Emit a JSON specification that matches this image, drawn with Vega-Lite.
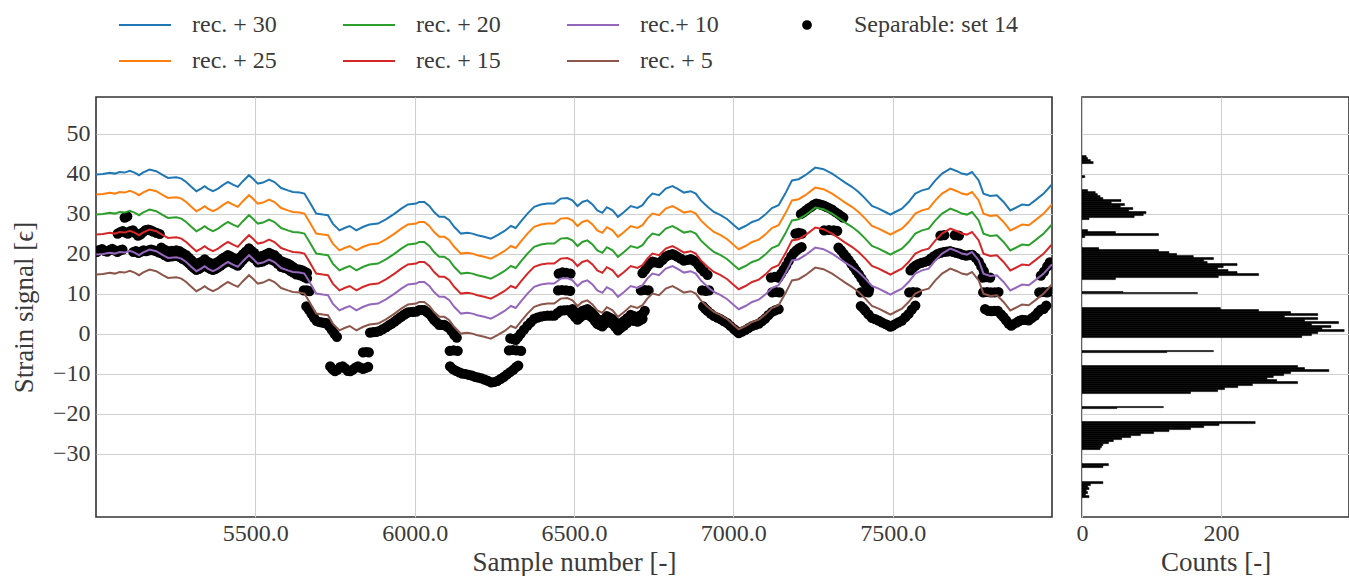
{
"$schema": "https://vega.github.io/schema/vega-lite/v6.json",
"padding": {"left": 9, "top": 13, "right": 0, "bottom": 0},
"background": "white",
"config": {
  "font": "Liberation Serif",
  "view": {"stroke": "#333333", "strokeWidth": 1.6},
  "axis": {"labelFont": "Liberation Serif", "titleFont": "Liberation Serif", "labelFontSize": 24, "titleFontSize": 27, "labelColor": "#3a3a3a", "titleColor": "#3a3a3a", "titleFontWeight": "normal", "gridColor": "#d0d0d0", "gridWidth": 1.1, "domain": false, "ticks": false, "labelPadding": 6, "labelFlush": false}
},
"spacing": 30,
"bounds": "flush",
"datasets": {
"lines": [
{"n":5001,"30":39.75,"25":34.75,"20":29.75,"15":24.75,"10":19.75,"5":14.75},
{"n":5022,"30":39.9,"25":34.9,"20":29.9,"15":24.9,"10":19.9,"5":14.9},
{"n":5043,"30":40.2,"25":35.2,"20":30.2,"15":25.2,"10":20.2,"5":15.2},
{"n":5059,"30":40,"25":35,"20":30,"15":25,"10":20,"5":15},
{"n":5074,"30":40.4,"25":35.4,"20":30.4,"15":25.4,"10":20.4,"5":15.4},
{"n":5090,"30":40.25,"25":35.25,"20":30.25,"15":25.25,"10":20.25,"5":15.25},
{"n":5106,"30":40.7,"25":35.7,"20":30.7,"15":25.7,"10":20.7,"5":15.7},
{"n":5121,"30":40.25,"25":35.25,"20":30.25,"15":25.25,"10":20.25,"5":15.25},
{"n":5135,"30":39.6,"25":34.6,"20":29.6,"15":24.6,"10":19.6,"5":14.6},
{"n":5147,"30":40.25,"25":35.25,"20":30.25,"15":25.25,"10":20.25,"5":15.25},
{"n":5168,"30":41,"25":36,"20":31,"15":26,"10":21,"5":16},
{"n":5189,"30":40.6,"25":35.6,"20":30.6,"15":25.6,"10":20.6,"5":15.6},
{"n":5210,"30":39.6,"25":34.6,"20":29.6,"15":24.6,"10":19.6,"5":14.6},
{"n":5226,"30":38.9,"25":33.9,"20":28.9,"15":23.9,"10":18.9,"5":13.9},
{"n":5252,"30":39.1,"25":34.1,"20":29.1,"15":24.1,"10":19.1,"5":14.1},
{"n":5268,"30":38.75,"25":33.75,"20":28.75,"15":23.75,"10":18.75,"5":13.75},
{"n":5283,"30":37.9,"25":32.9,"20":27.9,"15":22.9,"10":17.9,"5":12.9},
{"n":5299,"30":36.7,"25":31.7,"20":26.7,"15":21.7,"10":16.7,"5":11.7},
{"n":5315,"30":35.6,"25":30.6,"20":25.6,"15":20.6,"10":15.6,"5":10.6},
{"n":5330,"30":36.25,"25":31.25,"20":26.25,"15":21.25,"10":16.25,"5":11.25},
{"n":5341,"30":36.85,"25":31.85,"20":26.85,"15":21.85,"10":16.85,"5":11.85},
{"n":5351,"30":36.25,"25":31.25,"20":26.25,"15":21.25,"10":16.25,"5":11.25},
{"n":5367,"30":35.6,"25":30.6,"20":25.6,"15":20.6,"10":15.6,"5":10.6},
{"n":5383,"30":36.25,"25":31.25,"20":26.25,"15":21.25,"10":16.25,"5":11.25},
{"n":5398,"30":37.1,"25":32.1,"20":27.1,"15":22.1,"10":17.1,"5":12.1},
{"n":5414,"30":37.9,"25":32.9,"20":27.9,"15":22.9,"10":17.9,"5":12.9},
{"n":5430,"30":37.25,"25":32.25,"20":27.25,"15":22.25,"10":17.25,"5":12.25},
{"n":5445,"30":36.7,"25":31.7,"20":26.7,"15":21.7,"10":16.7,"5":11.7},
{"n":5461,"30":38.1,"25":33.1,"20":28.1,"15":23.1,"10":18.1,"5":13.1},
{"n":5480,"30":39.6,"25":34.6,"20":29.6,"15":24.6,"10":19.6,"5":14.6},
{"n":5492,"30":38.75,"25":33.75,"20":28.75,"15":23.75,"10":18.75,"5":13.75},
{"n":5508,"30":37.5,"25":32.5,"20":27.5,"15":22.5,"10":17.5,"5":12.5},
{"n":5524,"30":37.75,"25":32.75,"20":27.75,"15":22.75,"10":17.75,"5":12.75},
{"n":5543,"30":38.5,"25":33.5,"20":28.5,"15":23.5,"10":18.5,"5":13.5},
{"n":5560,"30":37.9,"25":32.9,"20":27.9,"15":22.9,"10":17.9,"5":12.9},
{"n":5581,"30":36.4,"25":31.4,"20":26.4,"15":21.4,"10":16.4,"5":11.4},
{"n":5602,"30":35.8,"25":30.8,"20":25.8,"15":20.8,"10":15.8,"5":10.8},
{"n":5618,"30":35.4,"25":30.4,"20":25.4,"15":20.4,"10":15.4,"5":10.4},
{"n":5639,"30":35.25,"25":30.25,"20":25.25,"15":20.25,"10":15.25,"5":10.25},
{"n":5654,"30":35,"25":30,"20":25,"15":20,"10":15,"5":10},
{"n":5670,"30":32.9,"25":27.9,"20":22.9,"15":17.9,"10":12.9,"5":7.9},
{"n":5691,"30":30,"25":25,"20":20,"15":15,"10":10,"5":5},
{"n":5712,"30":29.75,"25":24.75,"20":19.75,"15":14.75,"10":9.75,"5":4.75},
{"n":5728,"30":29.6,"25":24.6,"20":19.6,"15":14.6,"10":9.6,"5":4.6},
{"n":5743,"30":27.5,"25":22.5,"20":17.5,"15":12.5,"10":7.5,"5":2.5},
{"n":5764,"30":25.8,"25":20.8,"20":15.8,"15":10.8,"10":5.8,"5":0.8},
{"n":5780,"30":26.4,"25":21.4,"20":16.4,"15":11.4,"10":6.4,"5":1.4},
{"n":5796,"30":26.9,"25":21.9,"20":16.9,"15":11.9,"10":6.9,"5":1.9},
{"n":5817,"30":25.8,"25":20.8,"20":15.8,"15":10.8,"10":5.8,"5":0.8},
{"n":5837,"30":26.65,"25":21.65,"20":16.65,"15":11.65,"10":6.65,"5":1.65},
{"n":5858,"30":27.25,"25":22.25,"20":17.25,"15":12.25,"10":7.25,"5":2.25},
{"n":5885,"30":27.5,"25":22.5,"20":17.5,"15":12.5,"10":7.5,"5":2.5},
{"n":5911,"30":28.6,"25":23.6,"20":18.6,"15":13.6,"10":8.6,"5":3.6},
{"n":5937,"30":30,"25":25,"20":20,"15":15,"10":10,"5":5},
{"n":5958,"30":31.25,"25":26.25,"20":21.25,"15":16.25,"10":11.25,"5":6.25},
{"n":5979,"30":32.3,"25":27.3,"20":22.3,"15":17.3,"10":12.3,"5":7.3},
{"n":6005,"30":32.5,"25":27.5,"20":22.5,"15":17.5,"10":12.5,"5":7.5},
{"n":6014,"30":32.9,"25":27.9,"20":22.9,"15":17.9,"10":12.9,"5":7.9},
{"n":6030,"30":32.9,"25":27.9,"20":22.9,"15":17.9,"10":12.9,"5":7.9},
{"n":6046,"30":31.9,"25":26.9,"20":21.9,"15":16.9,"10":11.9,"5":6.9},
{"n":6061,"30":30.4,"25":25.4,"20":20.4,"15":15.4,"10":10.4,"5":5.4},
{"n":6077,"30":29.2,"25":24.2,"20":19.2,"15":14.2,"10":9.2,"5":4.2},
{"n":6093,"30":29.2,"25":24.2,"20":19.2,"15":14.2,"10":9.2,"5":4.2},
{"n":6108,"30":28.4,"25":23.4,"20":18.4,"15":13.4,"10":8.4,"5":3.4},
{"n":6124,"30":26.7,"25":21.7,"20":16.7,"15":11.7,"10":6.7,"5":1.7},
{"n":6145,"30":25,"25":20,"20":15,"15":10,"10":5,"5":0},
{"n":6166,"30":25.2,"25":20.2,"20":15.2,"15":10.2,"10":5.2,"5":0.2},
{"n":6181,"30":25,"25":20,"20":15,"15":10,"10":5,"5":0},
{"n":6197,"30":24.6,"25":19.6,"20":14.6,"15":9.6,"10":4.6,"5":-0.4},
{"n":6218,"30":24.2,"25":19.2,"20":14.2,"15":9.2,"10":4.2,"5":-0.8},
{"n":6239,"30":23.75,"25":18.75,"20":13.75,"15":8.75,"10":3.75,"5":-1.25},
{"n":6260,"30":24.6,"25":19.6,"20":14.6,"15":9.6,"10":4.6,"5":-0.4},
{"n":6281,"30":25.6,"25":20.6,"20":15.6,"15":10.6,"10":5.6,"5":0.6},
{"n":6302,"30":26.9,"25":21.9,"20":16.9,"15":11.9,"10":6.9,"5":1.9},
{"n":6317,"30":26.4,"25":21.4,"20":16.4,"15":11.4,"10":6.4,"5":1.4},
{"n":6333,"30":28,"25":23,"20":18,"15":13,"10":8,"5":3},
{"n":6354,"30":30,"25":25,"20":20,"15":15,"10":10,"5":5},
{"n":6375,"30":31.7,"25":26.7,"20":21.7,"15":16.7,"10":11.7,"5":6.7},
{"n":6396,"30":32.25,"25":27.25,"20":22.25,"15":17.25,"10":12.25,"5":7.25},
{"n":6417,"30":32.5,"25":27.5,"20":22.5,"15":17.5,"10":12.5,"5":7.5},
{"n":6438,"30":32.5,"25":27.5,"20":22.5,"15":17.5,"10":12.5,"5":7.5},
{"n":6458,"30":33.75,"25":28.75,"20":23.75,"15":18.75,"10":13.75,"5":8.75},
{"n":6479,"30":33.9,"25":28.9,"20":23.9,"15":18.9,"10":13.9,"5":8.9},
{"n":6495,"30":33.3,"25":28.3,"20":23.3,"15":18.3,"10":13.3,"5":8.3},
{"n":6511,"30":31.9,"25":26.9,"20":21.9,"15":16.9,"10":11.9,"5":6.9},
{"n":6526,"30":32.9,"25":27.9,"20":22.9,"15":17.9,"10":12.9,"5":7.9},
{"n":6542,"30":33.3,"25":28.3,"20":23.3,"15":18.3,"10":13.3,"5":8.3},
{"n":6558,"30":32.3,"25":27.3,"20":22.3,"15":17.3,"10":12.3,"5":7.3},
{"n":6573,"30":30.8,"25":25.8,"20":20.8,"15":15.8,"10":10.8,"5":5.8},
{"n":6589,"30":30.2,"25":25.2,"20":20.2,"15":15.2,"10":10.2,"5":5.2},
{"n":6603,"30":31.6,"25":26.6,"20":21.6,"15":16.6,"10":11.6,"5":6.6},
{"n":6621,"30":30.8,"25":25.8,"20":20.8,"15":15.8,"10":10.8,"5":5.8},
{"n":6638,"30":29.2,"25":24.2,"20":19.2,"15":14.2,"10":9.2,"5":4.2},
{"n":6657,"30":30.4,"25":25.4,"20":20.4,"15":15.4,"10":10.4,"5":5.4},
{"n":6678,"30":31.9,"25":26.9,"20":21.9,"15":16.9,"10":11.9,"5":6.9},
{"n":6699,"30":31.4,"25":26.4,"20":21.4,"15":16.4,"10":11.4,"5":6.4},
{"n":6715,"30":32.1,"25":27.1,"20":22.1,"15":17.1,"10":12.1,"5":7.1},
{"n":6730,"30":33.75,"25":28.75,"20":23.75,"15":18.75,"10":13.75,"5":8.75},
{"n":6746,"30":35,"25":30,"20":25,"15":20,"10":15,"5":10},
{"n":6767,"30":34.6,"25":29.6,"20":24.6,"15":19.6,"10":14.6,"5":9.6},
{"n":6788,"30":36.25,"25":31.25,"20":26.25,"15":21.25,"10":16.25,"5":11.25},
{"n":6809,"30":36.9,"25":31.9,"20":26.9,"15":21.9,"10":16.9,"5":11.9},
{"n":6824,"30":36.25,"25":31.25,"20":26.25,"15":21.25,"10":16.25,"5":11.25},
{"n":6845,"30":35.25,"25":30.25,"20":25.25,"15":20.25,"10":15.25,"5":10.25},
{"n":6866,"30":35.6,"25":30.6,"20":25.6,"15":20.6,"10":15.6,"5":10.6},
{"n":6882,"30":35,"25":30,"20":25,"15":20,"10":15,"5":10},
{"n":6898,"30":33.3,"25":28.3,"20":23.3,"15":18.3,"10":13.3,"5":8.3},
{"n":6919,"30":31.7,"25":26.7,"20":21.7,"15":16.7,"10":11.7,"5":6.7},
{"n":6939,"30":30.4,"25":25.4,"20":20.4,"15":15.4,"10":10.4,"5":5.4},
{"n":6960,"30":29.6,"25":24.6,"20":19.6,"15":14.6,"10":9.6,"5":4.6},
{"n":6981,"30":28.6,"25":23.6,"20":18.6,"15":13.6,"10":8.6,"5":3.6},
{"n":7002,"30":27.1,"25":22.1,"20":17.1,"15":12.1,"10":7.1,"5":2.1},
{"n":7017,"30":26.1,"25":21.1,"20":16.1,"15":11.1,"10":6.1,"5":1.1},
{"n":7038,"30":26.9,"25":21.9,"20":16.9,"15":11.9,"10":6.9,"5":1.9},
{"n":7059,"30":27.9,"25":22.9,"20":17.9,"15":12.9,"10":7.9,"5":2.9},
{"n":7080,"30":28.5,"25":23.5,"20":18.5,"15":13.5,"10":8.5,"5":3.5},
{"n":7100,"30":29.75,"25":24.75,"20":19.75,"15":14.75,"10":9.75,"5":4.75},
{"n":7121,"30":31.4,"25":26.4,"20":21.4,"15":16.4,"10":11.4,"5":6.4},
{"n":7142,"30":32.1,"25":27.1,"20":22.1,"15":17.1,"10":12.1,"5":7.1},
{"n":7163,"30":35,"25":30,"20":25,"15":20,"10":15,"5":10},
{"n":7184,"30":38.3,"25":33.3,"20":28.3,"15":23.3,"10":18.3,"5":13.3},
{"n":7205,"30":38.6,"25":33.6,"20":28.6,"15":23.6,"10":18.6,"5":13.6},
{"n":7226,"30":39.6,"25":34.6,"20":29.6,"15":24.6,"10":19.6,"5":14.6},
{"n":7257,"30":41.5,"25":36.5,"20":31.5,"15":26.5,"10":21.5,"5":16.5},
{"n":7283,"30":41.1,"25":36.1,"20":31.1,"15":26.1,"10":21.1,"5":16.1},
{"n":7310,"30":40,"25":35,"20":30,"15":25,"10":20,"5":15},
{"n":7330,"30":38.9,"25":33.9,"20":28.9,"15":23.9,"10":18.9,"5":13.9},
{"n":7351,"30":37.75,"25":32.75,"20":27.75,"15":22.75,"10":17.75,"5":12.75},
{"n":7372,"30":36.7,"25":31.7,"20":26.7,"15":21.7,"10":16.7,"5":11.7},
{"n":7393,"30":35.4,"25":30.4,"20":25.4,"15":20.4,"10":15.4,"5":10.4},
{"n":7414,"30":33.75,"25":28.75,"20":23.75,"15":18.75,"10":13.75,"5":8.75},
{"n":7435,"30":31.9,"25":26.9,"20":21.9,"15":16.9,"10":11.9,"5":6.9},
{"n":7456,"30":31.25,"25":26.25,"20":21.25,"15":16.25,"10":11.25,"5":6.25},
{"n":7477,"30":30.4,"25":25.4,"20":20.4,"15":15.4,"10":10.4,"5":5.4},
{"n":7493,"30":29.75,"25":24.75,"20":19.75,"15":14.75,"10":9.75,"5":4.75},
{"n":7508,"30":30.4,"25":25.4,"20":20.4,"15":15.4,"10":10.4,"5":5.4},
{"n":7529,"30":31.25,"25":26.25,"20":21.25,"15":16.25,"10":11.25,"5":6.25},
{"n":7550,"30":32.9,"25":27.9,"20":22.9,"15":17.9,"10":12.9,"5":7.9},
{"n":7571,"30":35,"25":30,"20":25,"15":20,"10":15,"5":10},
{"n":7592,"30":35.8,"25":30.8,"20":25.8,"15":20.8,"10":15.8,"5":10.8},
{"n":7613,"30":36.25,"25":31.25,"20":26.25,"15":21.25,"10":16.25,"5":11.25},
{"n":7634,"30":38.3,"25":33.3,"20":28.3,"15":23.3,"10":18.3,"5":13.3},
{"n":7655,"30":40,"25":35,"20":30,"15":25,"10":20,"5":15},
{"n":7681,"30":41.25,"25":36.25,"20":31.25,"15":26.25,"10":21.25,"5":16.25},
{"n":7702,"30":40.6,"25":35.6,"20":30.6,"15":25.6,"10":20.6,"5":15.6},
{"n":7717,"30":40,"25":35,"20":30,"15":25,"10":20,"5":15},
{"n":7733,"30":39.75,"25":34.75,"20":29.75,"15":24.75,"10":19.75,"5":14.75},
{"n":7749,"30":40.4,"25":35.4,"20":30.4,"15":25.4,"10":20.4,"5":15.4},
{"n":7770,"30":38.3,"25":33.3,"20":28.3,"15":23.3,"10":18.3,"5":13.3},
{"n":7785,"30":35,"25":30,"20":25,"15":20,"10":15,"5":10},
{"n":7806,"30":34.4,"25":29.4,"20":24.4,"15":19.4,"10":14.4,"5":9.4},
{"n":7827,"30":34.6,"25":29.6,"20":24.6,"15":19.6,"10":14.6,"5":9.6},
{"n":7848,"30":32.9,"25":27.9,"20":22.9,"15":17.9,"10":12.9,"5":7.9},
{"n":7869,"30":30.8,"25":25.8,"20":20.8,"15":15.8,"10":10.8,"5":5.8},
{"n":7885,"30":31.4,"25":26.4,"20":21.4,"15":16.4,"10":11.4,"5":6.4},
{"n":7906,"30":32.25,"25":27.25,"20":22.25,"15":17.25,"10":12.25,"5":7.25},
{"n":7927,"30":32.1,"25":27.1,"20":22.1,"15":17.1,"10":12.1,"5":7.1},
{"n":7947,"30":33.3,"25":28.3,"20":23.3,"15":18.3,"10":13.3,"5":8.3},
{"n":7974,"30":35,"25":30,"20":25,"15":20,"10":15,"5":10},
{"n":7995,"30":36.9,"25":31.9,"20":26.9,"15":21.9,"10":16.9,"5":11.9},
{"n":8000,"30":37.3,"25":32.3,"20":27.3,"15":22.3,"10":17.3,"5":12.3}
],
"pts": [
{"n":5003,"y":20.4},{"n":5011,"y":20.9},{"n":5019,"y":21.1},{"n":5027,"y":20.7},{"n":5035,"y":20.5},{"n":5043,"y":20.9},{"n":5051,"y":21.2},{"n":5059,"y":20.8},{"n":5067,"y":20.4},{"n":5075,"y":20.8},{"n":5083,"y":21.0},
{"n":5090,"y":29.0},{"n":5098,"y":29.3},
{"n":5068,"y":25.0},{"n":5076,"y":25.4},{"n":5084,"y":25.6},{"n":5092,"y":25.3},{"n":5100,"y":25.0},{"n":5108,"y":25.6},{"n":5116,"y":25.8},{"n":5124,"y":25.1},{"n":5132,"y":24.5},{"n":5140,"y":24.8},{"n":5148,"y":25.4},{"n":5156,"y":25.9},{"n":5164,"y":26.0},{"n":5172,"y":25.8},{"n":5180,"y":25.5},{"n":5190,"y":25.2},{"n":5200,"y":24.9},
{"n":5117,"y":20.4},{"n":5125,"y":20.6},{"n":5133,"y":20.2},{"n":5141,"y":20.5},{"n":5149,"y":20.8},{"n":5157,"y":20.6},{"n":5165,"y":20.8},{"n":5173,"y":21.0},{"n":5181,"y":20.8},{"n":5189,"y":20.6},{"n":5197,"y":20.3},
{"n":5205,"y":20.1},{"n":5215,"y":19.6},{"n":5226,"y":19.2},{"n":5238,"y":19.3},{"n":5252,"y":19.4},{"n":5262,"y":19.2},{"n":5272,"y":18.7},{"n":5283,"y":18.2},{"n":5291,"y":17.6},{"n":5299,"y":17.0},{"n":5307,"y":16.4},{"n":5315,"y":15.9},{"n":5323,"y":16.2},{"n":5330,"y":16.55},{"n":5341,"y":17.15},{"n":5351,"y":16.55},{"n":5359,"y":16.2},{"n":5367,"y":15.9},{"n":5375,"y":16.2},{"n":5383,"y":16.55},{"n":5391,"y":17.0},{"n":5398,"y":17.4},{"n":5406,"y":17.8},{"n":5414,"y":18.2},{"n":5422,"y":17.9},{"n":5430,"y":17.55},{"n":5438,"y":17.3},{"n":5445,"y":17.0},{"n":5453,"y":17.7},{"n":5461,"y":18.4},{"n":5470,"y":19.1},{"n":5480,"y":19.9},{"n":5488,"y":19.3},{"n":5496,"y":18.8},{"n":5508,"y":17.8},{"n":5516,"y":17.9},{"n":5524,"y":18.05},{"n":5533,"y":18.4},{"n":5543,"y":18.8},{"n":5551,"y":18.5},{"n":5560,"y":18.2},{"n":5570,"y":17.5},{"n":5581,"y":16.7},{"n":5591,"y":16.4},{"n":5602,"y":16.1},{"n":5610,"y":15.7},{"n":5618,"y":15.3},{"n":5628,"y":14.8},{"n":5639,"y":14.6},{"n":5647,"y":14.4},{"n":5654,"y":14.1},{"n":5662,"y":13.8},
{"n":5205,"y":21.5},{"n":5215,"y":21.0},{"n":5226,"y":20.6},{"n":5238,"y":20.7},{"n":5252,"y":20.8},{"n":5262,"y":20.6},{"n":5272,"y":20.1},{"n":5283,"y":19.6},{"n":5291,"y":19.0},{"n":5299,"y":18.4},{"n":5307,"y":17.8},{"n":5315,"y":17.3},{"n":5323,"y":17.6},{"n":5330,"y":17.95},{"n":5341,"y":18.55},{"n":5351,"y":17.95},{"n":5359,"y":17.6},{"n":5367,"y":17.3},{"n":5375,"y":17.6},{"n":5383,"y":17.95},{"n":5391,"y":18.4},{"n":5398,"y":18.8},{"n":5406,"y":19.2},{"n":5414,"y":19.6},{"n":5422,"y":19.3},{"n":5430,"y":18.95},{"n":5438,"y":18.7},{"n":5445,"y":18.4},{"n":5453,"y":19.1},{"n":5461,"y":19.8},{"n":5470,"y":20.5},{"n":5480,"y":21.3},{"n":5488,"y":20.7},{"n":5496,"y":20.2},{"n":5508,"y":19.2},{"n":5516,"y":19.3},{"n":5524,"y":19.45},{"n":5533,"y":19.8},{"n":5543,"y":20.2},{"n":5551,"y":19.9},{"n":5560,"y":19.6},{"n":5570,"y":18.9},{"n":5581,"y":18.1},{"n":5591,"y":17.8},{"n":5602,"y":17.5},{"n":5610,"y":17.1},{"n":5618,"y":16.7},{"n":5628,"y":16.2},{"n":5639,"y":16.0},{"n":5647,"y":15.8},{"n":5654,"y":15.5},{"n":5662,"y":15.2},
{"n":5652,"y":10.8},{"n":5662,"y":10.8},{"n":5670,"y":10.6},
{"n":5660,"y":6.8},{"n":5668,"y":6.0},{"n":5676,"y":5.0},{"n":5684,"y":4.0},{"n":5692,"y":3.2},{"n":5700,"y":2.9},{"n":5708,"y":2.8},{"n":5716,"y":2.7},{"n":5724,"y":2.6},{"n":5732,"y":1.8},{"n":5740,"y":0.9},{"n":5748,"y":0.0},{"n":5756,"y":-0.8},
{"n":5838,"y":-4.7},{"n":5848,"y":-4.6},{"n":5856,"y":-4.7},
{"n":5735,"y":-8.2},{"n":5742,"y":-8.9},{"n":5750,"y":-9.4},{"n":5758,"y":-9.0},{"n":5766,"y":-8.4},{"n":5774,"y":-8.2},{"n":5782,"y":-8.7},{"n":5790,"y":-9.3},{"n":5798,"y":-9.4},{"n":5806,"y":-9.0},{"n":5814,"y":-8.5},{"n":5822,"y":-8.2},{"n":5830,"y":-8.5},{"n":5838,"y":-8.8},{"n":5846,"y":-8.6},{"n":5854,"y":-8.3},
{"n":5860,"y":0.25},{"n":5870,"y":0.35},{"n":5880,"y":0.45},{"n":5890,"y":0.7},{"n":5900,"y":1.1},{"n":5911,"y":1.6},{"n":5920,"y":2.1},{"n":5928,"y":2.5},{"n":5937,"y":3.0},{"n":5945,"y":3.5},{"n":5952,"y":3.9},{"n":5958,"y":4.25},{"n":5966,"y":4.7},{"n":5972,"y":5.0},{"n":5979,"y":5.3},{"n":5988,"y":5.4},{"n":5996,"y":5.45},{"n":6005,"y":5.5},{"n":6014,"y":5.9},{"n":6022,"y":5.9},{"n":6030,"y":5.9},{"n":6038,"y":5.4},
{"n":6046,"y":4.9},{"n":6054,"y":4.2},{"n":6061,"y":3.4},{"n":6069,"y":2.8},{"n":6077,"y":2.2},{"n":6085,"y":2.2},{"n":6093,"y":2.2},{"n":6100,"y":1.8},{"n":6108,"y":1.4},{"n":6116,"y":0.6},{"n":6124,"y":-0.3},{"n":6132,"y":-1.0},
{"n":6110,"y":-4.3},{"n":6122,"y":-4.2},{"n":6135,"y":-4.3},
{"n":6111,"y":-8.2},{"n":6120,"y":-8.9},{"n":6130,"y":-9.3},{"n":6140,"y":-9.7},{"n":6150,"y":-10.0},{"n":6160,"y":-10.1},{"n":6170,"y":-10.3},{"n":6180,"y":-10.5},{"n":6190,"y":-10.8},{"n":6200,"y":-11.0},{"n":6210,"y":-11.2},{"n":6220,"y":-11.5},{"n":6230,"y":-11.8},{"n":6240,"y":-12.2},{"n":6250,"y":-12.1},{"n":6260,"y":-11.8},{"n":6270,"y":-11.3},{"n":6280,"y":-10.8},{"n":6290,"y":-10.2},{"n":6300,"y":-9.6},{"n":6310,"y":-9.0},{"n":6318,"y":-8.4},{"n":6325,"y":-8.0},
{"n":6296,"y":-4.2},{"n":6308,"y":-4.1},{"n":6320,"y":-4.2},{"n":6334,"y":-4.3},
{"n":6300,"y":-1.2},{"n":6310,"y":-1.4},{"n":6317,"y":-1.6},{"n":6325,"y":-0.8},{"n":6333,"y":0.0},{"n":6343,"y":1.0},{"n":6354,"y":2.0},{"n":6364,"y":2.8},{"n":6375,"y":3.7},{"n":6385,"y":4.0},{"n":6396,"y":4.25},{"n":6406,"y":4.4},{"n":6417,"y":4.5},{"n":6428,"y":4.5},{"n":6438,"y":4.5},{"n":6448,"y":5.1},{"n":6458,"y":5.75},{"n":6468,"y":5.8},{"n":6479,"y":5.9},{"n":6487,"y":5.6},
{"n":6450,"y":10.8},{"n":6462,"y":10.9},{"n":6475,"y":10.8},{"n":6488,"y":10.7},
{"n":6452,"y":15.0},{"n":6464,"y":15.3},{"n":6476,"y":15.2},{"n":6489,"y":15.0},
{"n":6495,"y":6.1},{"n":6503,"y":5.4},{"n":6511,"y":4.7},{"n":6518,"y":5.2},{"n":6526,"y":5.7},{"n":6534,"y":5.9},{"n":6542,"y":6.1},{"n":6550,"y":5.6},{"n":6558,"y":5.1},{"n":6566,"y":4.3},{"n":6573,"y":3.6},{"n":6581,"y":3.3},{"n":6589,"y":3.0},{"n":6596,"y":3.7},{"n":6603,"y":4.4},{"n":6612,"y":4.0},{"n":6621,"y":3.6},{"n":6630,"y":2.8},{"n":6638,"y":2.0},{"n":6647,"y":2.6},{"n":6657,"y":3.2},{"n":6667,"y":3.9},{"n":6678,"y":4.7},{"n":6688,"y":4.4},{"n":6699,"y":4.2},{"n":6707,"y":4.5},{"n":6715,"y":4.9},{"n":6722,"y":5.7},
{"n":6495,"y":4.9},{"n":6503,"y":4.2},{"n":6511,"y":3.5},{"n":6518,"y":4.0},{"n":6526,"y":4.5},{"n":6534,"y":4.7},{"n":6542,"y":4.9},{"n":6550,"y":4.4},{"n":6558,"y":3.9},{"n":6566,"y":3.1},{"n":6573,"y":2.4},{"n":6581,"y":2.1},{"n":6589,"y":1.8},{"n":6596,"y":2.5},{"n":6603,"y":3.2},{"n":6612,"y":2.8},{"n":6621,"y":2.4},{"n":6630,"y":1.6},{"n":6638,"y":0.8},{"n":6647,"y":1.4},{"n":6657,"y":2.0},{"n":6667,"y":2.7},{"n":6678,"y":3.5},{"n":6688,"y":3.2},{"n":6699,"y":3.0},{"n":6707,"y":3.3},{"n":6715,"y":3.7},
{"n":6710,"y":10.8},{"n":6722,"y":10.9},{"n":6734,"y":10.8},
{"n":6715,"y":15.1},{"n":6723,"y":15.9},{"n":6730,"y":16.75},{"n":6738,"y":17.4},{"n":6746,"y":18.0},{"n":6756,"y":17.8},{"n":6767,"y":17.6},{"n":6778,"y":18.4},{"n":6788,"y":19.25},{"n":6798,"y":19.6},{"n":6809,"y":19.9},{"n":6816,"y":19.6},{"n":6824,"y":19.25},{"n":6835,"y":18.75},{"n":6845,"y":18.25},{"n":6856,"y":18.4},{"n":6866,"y":18.6},{"n":6874,"y":18.3},{"n":6882,"y":18.0},{"n":6890,"y":17.2},{"n":6898,"y":16.3},{"n":6908,"y":15.5},{"n":6919,"y":14.7},
{"n":6902,"y":10.8},{"n":6914,"y":10.7},{"n":6924,"y":10.8},
{"n":6905,"y":6.8},{"n":6912,"y":6.2},{"n":6919,"y":5.7},{"n":6929,"y":5.0},{"n":6939,"y":4.4},{"n":6950,"y":4.0},{"n":6960,"y":3.6},{"n":6970,"y":3.1},{"n":6981,"y":2.6},{"n":6991,"y":1.9},{"n":7002,"y":1.1},{"n":7010,"y":0.6},{"n":7017,"y":0.1},{"n":7027,"y":0.5},{"n":7038,"y":0.9},{"n":7048,"y":1.4},{"n":7059,"y":1.9},{"n":7069,"y":2.2},{"n":7080,"y":2.5},{"n":7090,"y":3.1},{"n":7100,"y":3.75},{"n":7110,"y":4.6},{"n":7121,"y":5.4},{"n":7131,"y":5.8},{"n":7142,"y":6.1},
{"n":7118,"y":14.0},{"n":7130,"y":14.2},{"n":7142,"y":14.0},{"n":7122,"y":10.3},{"n":7134,"y":10.4},{"n":7145,"y":10.3},
{"n":7150,"y":15.0},{"n":7158,"y":16.0},{"n":7166,"y":17.0},{"n":7174,"y":18.2},{"n":7182,"y":19.3},{"n":7190,"y":20.2},{"n":7198,"y":20.8},{"n":7206,"y":21.3},{"n":7214,"y":21.6},
{"n":7195,"y":25.0},{"n":7205,"y":25.2},{"n":7215,"y":25.0},
{"n":7212,"y":29.9},{"n":7220,"y":30.3},{"n":7228,"y":30.8},{"n":7236,"y":31.3},{"n":7244,"y":31.7},{"n":7252,"y":32.2},{"n":7260,"y":32.5},{"n":7268,"y":32.4},{"n":7276,"y":32.2},{"n":7284,"y":32.0},{"n":7292,"y":31.7},{"n":7300,"y":31.4},{"n":7310,"y":31.0},{"n":7320,"y":30.4},{"n":7330,"y":29.9},{"n":7338,"y":29.4},{"n":7345,"y":29.0},
{"n":7285,"y":25.8},{"n":7300,"y":25.9},{"n":7315,"y":25.8},{"n":7326,"y":25.7},
{"n":7330,"y":21.5},{"n":7338,"y":20.8},{"n":7346,"y":20.0},{"n":7354,"y":19.2},{"n":7362,"y":18.4},{"n":7370,"y":17.5},{"n":7378,"y":16.6},{"n":7386,"y":15.7},{"n":7394,"y":14.8},{"n":7402,"y":13.8},{"n":7410,"y":12.8},{"n":7418,"y":11.8},{"n":7426,"y":11.0},
{"n":7400,"y":10.3},{"n":7412,"y":10.4},{"n":7424,"y":10.3},
{"n":7400,"y":6.9},{"n":7408,"y":6.3},{"n":7414,"y":5.75},{"n":7424,"y":4.8},{"n":7435,"y":3.9},{"n":7445,"y":3.6},{"n":7456,"y":3.25},{"n":7466,"y":2.8},{"n":7477,"y":2.4},{"n":7485,"y":2.1},{"n":7493,"y":1.75},{"n":7500,"y":2.0},{"n":7508,"y":2.4},{"n":7518,"y":2.8},{"n":7529,"y":3.25},{"n":7540,"y":4.1},{"n":7550,"y":4.9},{"n":7560,"y":6.0},{"n":7571,"y":7.0},
{"n":7552,"y":10.3},{"n":7564,"y":10.4},{"n":7576,"y":10.3},
{"n":7556,"y":15.8},{"n":7564,"y":16.5},{"n":7572,"y":17.0},{"n":7580,"y":17.4},{"n":7590,"y":17.7},{"n":7600,"y":17.9},{"n":7610,"y":18.2},{"n":7620,"y":18.8},{"n":7630,"y":19.4},{"n":7640,"y":19.9},{"n":7650,"y":20.2},{"n":7660,"y":20.4},{"n":7670,"y":20.5},{"n":7680,"y":20.6},{"n":7690,"y":20.4},{"n":7700,"y":20.2},{"n":7710,"y":20.0},{"n":7720,"y":19.7},{"n":7730,"y":19.5},{"n":7740,"y":19.6},{"n":7750,"y":19.7},{"n":7760,"y":19.0},{"n":7770,"y":18.0},{"n":7778,"y":16.8},{"n":7786,"y":15.6},
{"n":7650,"y":24.5},{"n":7662,"y":24.6},{"n":7695,"y":24.6},{"n":7708,"y":24.5},
{"n":7782,"y":14.0},{"n":7794,"y":14.1},{"n":7806,"y":14.0},{"n":7784,"y":10.3},{"n":7796,"y":10.4},{"n":7808,"y":10.3},{"n":7820,"y":10.3},{"n":7832,"y":10.4},
{"n":7790,"y":6.1},{"n":7800,"y":5.7},{"n":7810,"y":5.6},{"n":7820,"y":5.7},{"n":7830,"y":5.7},{"n":7840,"y":4.8},{"n":7848,"y":4.1},{"n":7856,"y":3.3},{"n":7864,"y":2.5},{"n":7872,"y":2.0},{"n":7880,"y":2.4},{"n":7890,"y":2.8},{"n":7898,"y":3.2},{"n":7906,"y":3.45},{"n":7916,"y":3.4},{"n":7927,"y":3.3},{"n":7937,"y":3.9},{"n":7947,"y":4.5},{"n":7956,"y":5.3},{"n":7965,"y":6.0},{"n":7974,"y":6.2},{"n":7982,"y":7.0},
{"n":7960,"y":10.3},{"n":7972,"y":10.4},{"n":7984,"y":10.3},{"n":7992,"y":10.5},
{"n":7965,"y":14.5},{"n":7975,"y":15.5},{"n":7985,"y":16.8},{"n":7993,"y":17.8}
],
"hist": [
{"lo":44,"hi":44.5,"c":6},{"lo":43.5,"hi":44,"c":8},{"lo":43,"hi":43.5,"c":12},{"lo":42.5,"hi":43,"c":16},
{"lo":39,"hi":39.5,"c":4},
{"lo":35.5,"hi":36,"c":8},{"lo":35,"hi":35.5,"c":19},{"lo":34.5,"hi":35,"c":22},{"lo":34,"hi":34.5,"c":26},{"lo":33.5,"hi":34,"c":30},{"lo":33,"hi":33.5,"c":56},{"lo":32.5,"hi":33,"c":42},{"lo":32,"hi":32.5,"c":61},{"lo":31.5,"hi":32,"c":55},{"lo":31,"hi":31.5,"c":73},{"lo":30.5,"hi":31,"c":67},{"lo":30,"hi":30.5,"c":92},{"lo":29.5,"hi":30,"c":88},{"lo":29,"hi":29.5,"c":75},{"lo":28.5,"hi":29,"c":10},
{"lo":25.5,"hi":26,"c":8},{"lo":25,"hi":25.5,"c":48},{"lo":24.5,"hi":25,"c":110},{"lo":24,"hi":24.5,"c":4},
{"lo":21,"hi":21.5,"c":24},{"lo":20.5,"hi":21,"c":110},{"lo":20,"hi":20.5,"c":125},{"lo":19.5,"hi":20,"c":136},{"lo":19,"hi":19.5,"c":160},{"lo":18.5,"hi":19,"c":189},{"lo":18,"hi":18.5,"c":175},{"lo":17.5,"hi":18,"c":180},{"lo":17,"hi":17.5,"c":223},{"lo":16.5,"hi":17,"c":203},{"lo":16,"hi":16.5,"c":195},{"lo":15.5,"hi":16,"c":210},{"lo":15,"hi":15.5,"c":223},{"lo":14.5,"hi":15,"c":254},{"lo":14,"hi":14.5,"c":196},{"lo":13.5,"hi":14,"c":48},
{"lo":10.25,"hi":10.5,"c":59},{"lo":10,"hi":10.25,"c":166},
{"lo":6,"hi":6.5,"c":199},{"lo":5.5,"hi":6,"c":254},{"lo":5,"hi":5.5,"c":300},{"lo":4.5,"hi":5,"c":339},{"lo":4,"hi":4.5,"c":291},{"lo":3.5,"hi":4,"c":339},{"lo":3,"hi":3.5,"c":320},{"lo":2.5,"hi":3,"c":369},{"lo":2,"hi":2.5,"c":330},{"lo":1.5,"hi":2,"c":358},{"lo":1,"hi":1.5,"c":345},{"lo":0.5,"hi":1,"c":377},{"lo":0,"hi":0.5,"c":339},{"lo":-0.5,"hi":0,"c":330},{"lo":-1,"hi":-0.5,"c":316},
{"lo":-4.5,"hi":-4.25,"c":189},{"lo":-4.75,"hi":-4.5,"c":122},
{"lo":-8.5,"hi":-8,"c":310},{"lo":-9,"hi":-8.5,"c":320},{"lo":-9.5,"hi":-9,"c":355},{"lo":-10,"hi":-9.5,"c":300},{"lo":-10.5,"hi":-10,"c":290},{"lo":-11,"hi":-10.5,"c":275},{"lo":-11.5,"hi":-11,"c":266},{"lo":-12,"hi":-11.5,"c":280},{"lo":-12.5,"hi":-12,"c":310},{"lo":-13,"hi":-12.5,"c":245},{"lo":-13.5,"hi":-13,"c":224},{"lo":-14,"hi":-13.5,"c":205},{"lo":-14.5,"hi":-14,"c":195},{"lo":-15,"hi":-14.5,"c":156},
{"lo":-18.5,"hi":-18.25,"c":117},{"lo":-18.75,"hi":-18.5,"c":50},
{"lo":-22.5,"hi":-22,"c":249},{"lo":-23,"hi":-22.5,"c":197},{"lo":-23.5,"hi":-23,"c":175},{"lo":-24,"hi":-23.5,"c":156},{"lo":-24.5,"hi":-24,"c":125},{"lo":-25,"hi":-24.5,"c":103},{"lo":-25.5,"hi":-25,"c":84},{"lo":-26,"hi":-25.5,"c":70},{"lo":-26.5,"hi":-26,"c":57},{"lo":-27,"hi":-26.5,"c":45},{"lo":-27.5,"hi":-27,"c":38},{"lo":-28,"hi":-27.5,"c":30},{"lo":-28.5,"hi":-28,"c":28},{"lo":-29,"hi":-28.5,"c":26},
{"lo":-33,"hi":-32.5,"c":38},{"lo":-33.5,"hi":-33,"c":30},
{"lo":-37.5,"hi":-37,"c":30},{"lo":-38,"hi":-37.5,"c":12},{"lo":-38.5,"hi":-38,"c":8},{"lo":-39,"hi":-38.5,"c":10},{"lo":-39.5,"hi":-39,"c":6},{"lo":-40,"hi":-39.5,"c":8},{"lo":-40.5,"hi":-40,"c":5},{"lo":-41,"hi":-40.5,"c":10}
]
},
"hconcat": [
{
  "width": 956, "height": 420,
  "layer": [
    {
      "data": {"name": "pts"},
      "mark": {"type": "point", "filled": true, "size": 105, "opacity": 1, "clip": true},
      "encoding": {
        "x": {"field": "n", "type": "quantitative", "scale": {"domain": [5000, 8000], "nice": false, "zero": false},
              "axis": {"values": [5500, 6000, 6500, 7000, 7500], "format": ".1f", "title": "Sample number [-]", "labelPadding": 4, "titlePadding": 4, "grid": true}},
        "y": {"field": "y", "type": "quantitative", "scale": {"domain": [-45.85, 59.15], "nice": false, "zero": false},
              "axis": {"values": [-30, -25, -20, -15, -10, -5, 0, 5, 10, 15, 20, 25, 30, 35, 40, 45, 50], "labelExpr": "datum.value % 10 === 0 ? format(datum.value, 'd') : ''", "title": "Strain signal [ϵ]", "labelPadding": 6, "titlePadding": 14, "grid": true}},
        "color": {"datum": "S", "type": "nominal"}
      }
    },
    {
      "data": {"name": "lines"},
      "transform": [{"fold": ["30", "25", "20", "15", "10", "5"], "as": ["k", "v"]}],
      "mark": {"type": "line", "strokeWidth": 2, "clip": true},
      "encoding": {
        "x": {"field": "n", "type": "quantitative"},
        "y": {"field": "v", "type": "quantitative"},
        "color": {
          "field": "k", "type": "nominal",
          "scale": {"domain": ["30", "20", "10", "S", "25", "15", "5"], "range": ["#1f77b4", "#2ca02c", "#9467bd", "#000000", "#ff7f0e", "#d62728", "#8c564b"]},
          "legend": {
            "orient": "none", "legendX": 23, "legendY": -84, "direction": "horizontal", "columns": 4, "title": null,
            "symbolType": "stroke", "symbolSize": 2704, "symbolStrokeWidth": 2,
            "labelFont": "Liberation Serif", "labelFontSize": 24, "labelColor": "#3a3a3a", "labelLimit": 400,
            "columnPadding": 62, "rowPadding": 12, "padding": 0,
            "labelExpr": "({'30':'rec. + 30','25':'rec. + 25','20':'rec. + 20','15':'rec. + 15','10':'rec.+ 10','5':'rec. + 5','S':'Separable: set 14'})[datum.label]",
            "encode": {
              "symbols": {"update": {
                "x": {"value": 26},
                "shape": {"signal": "datum.value === 'S' ? 'circle' : 'stroke'"},
                "size": {"signal": "datum.value === 'S' ? 95 : 2704"},
                "fill": {"signal": "datum.value === 'S' ? 'black' : 'transparent'"},
                "stroke": {"signal": "({'30':'#1f77b4','25':'#ff7f0e','20':'#2ca02c','15':'#d62728','10':'#9467bd','5':'#8c564b','S':'black'})[datum.value]"},
                "strokeWidth": {"signal": "datum.value === 'S' ? 0 : 2"},
                "opacity": {"value": 1}
              }},
              "labels": {"update": {"x": {"value": 73}}}
            }
          }
        }
      }
    }
  ]
},
{
  "width": 267, "height": 420,
  "data": {"name": "hist"},
  "mark": {"type": "rect", "color": "black", "stroke": "black", "strokeWidth": 0.6, "clip": true},
  "encoding": {
    "x": {"field": "c", "type": "quantitative", "scale": {"domain": [0, 384], "nice": false},
          "axis": {"values": [0, 200], "format": "d", "title": "Counts [-]", "labelPadding": 4, "titlePadding": 4, "grid": true}},
    "x2": {"datum": 0},
    "y": {"field": "lo", "type": "quantitative", "scale": {"domain": [-45.85, 59.15], "nice": false, "zero": false},
          "axis": {"values": [-30, -20, -10, 0, 10, 20, 30, 40, 50], "labels": false, "title": null, "grid": true}},
    "y2": {"field": "hi"}
  }
}
]
}
